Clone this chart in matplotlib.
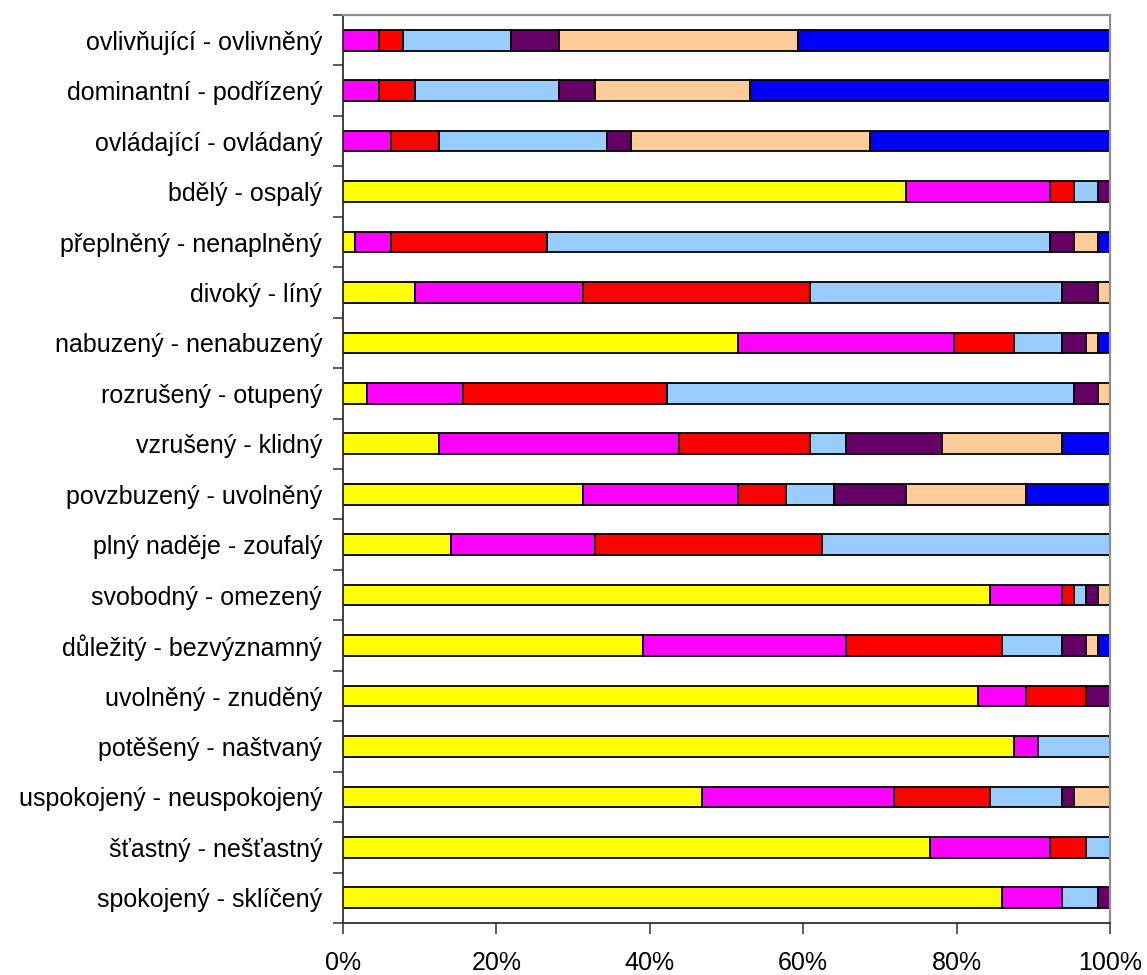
import numpy as np
import matplotlib.pyplot as plt
from matplotlib.ticker import FixedLocator, PercentFormatter

plt.rcParams['font.family'] = ['Liberation Sans', 'DejaVu Sans']

# --- DATA (counts per answer category; n = 64) ---
labels = [
    'ovlivňující - ovlivněný',
    'dominantní - podřízený',
    'ovládající - ovládaný',
    'bdělý - ospalý',
    'přeplněný - nenaplněný',
    'divoký - líný',
    'nabuzený - nenabuzený',
    'rozrušený - otupený',
    'vzrušený - klidný',
    'povzbuzený - uvolněný',
    'plný naděje - zoufalý',
    'svobodný - omezený',
    'důležitý - bezvýznamný',
    'uvolněný - znuděný',
    'potěšený - naštvaný',
    'uspokojený - neuspokojený',
    'šťastný - nešťastný',
    'spokojený - sklíčený',
]

s1 = [0, 0, 0, 47, 1, 6, 33, 2, 8, 20, 9, 54, 25, 53, 56, 30, 49, 55]
s2 = [3, 3, 4, 12, 3, 14, 18, 8, 20, 13, 12, 6, 17, 4, 2, 16, 10, 5]
s3 = [2, 3, 4, 2, 13, 19, 5, 17, 11, 4, 19, 1, 13, 5, 0, 8, 3, 0]
s4 = [9, 12, 14, 2, 42, 21, 4, 34, 3, 4, 24, 1, 5, 0, 6, 6, 2, 3]
s5 = [4, 3, 2, 1, 2, 3, 2, 2, 8, 6, 0, 1, 2, 2, 0, 1, 0, 1]
s6 = [20, 13, 20, 0, 2, 1, 1, 1, 10, 10, 0, 1, 1, 0, 0, 3, 0, 0]
s7 = [26, 30, 20, 0, 1, 0, 1, 0, 4, 7, 0, 0, 1, 0, 0, 0, 0, 0]

series = [s1, s2, s3, s4, s5, s6, s7]
colors = ['#FFFF00', '#FF00FF', '#FF0000', '#99CCFF', '#660066', '#FFCC99', '#0000FF']

# --- NORMALISE TO 100 % ---
counts = np.array(series, dtype=float)
shares = counts / counts.sum(axis=0) * 100.0

fig = plt.figure(figsize=(11.47, 9.75), dpi=100)
ax = fig.add_axes([0.299, 0.0533, 0.6687, 0.9313])

y = np.arange(len(labels))
left = np.zeros(len(labels))
for vals, col in zip(shares, colors):
    ax.barh(y, vals, left=left, height=0.41, color=col,
            edgecolor='black', linewidth=1.3)
    left += vals

ax.set_xlim(0, 100)
ax.set_ylim(len(labels) - 0.5, -0.5)

# category labels at bar centres, tick marks between categories
ax.yaxis.set_major_locator(FixedLocator(np.arange(-0.5, len(labels), 1.0)))
ax.yaxis.set_minor_locator(FixedLocator(y))
ax.set_yticklabels([])
ax.set_yticklabels(labels, minor=True)
ax.tick_params(axis='y', which='major', length=7, width=1.2, color='#404040')
ax.tick_params(axis='y', which='minor', length=0, pad=15, labelsize=18)

ax.set_xticks(np.arange(0, 101, 20))
ax.xaxis.set_major_formatter(PercentFormatter(decimals=0))
ax.tick_params(axis='x', length=8, width=1.2, color='#404040', pad=12, labelsize=18)

for side in ['left', 'bottom']:
    ax.spines[side].set_color('#303030')
    ax.spines[side].set_linewidth(1.3)
for side in ['top', 'right']:
    ax.spines[side].set_color('#909090')
    ax.spines[side].set_linewidth(1.6)

fig.savefig('out.png', dpi=100)
